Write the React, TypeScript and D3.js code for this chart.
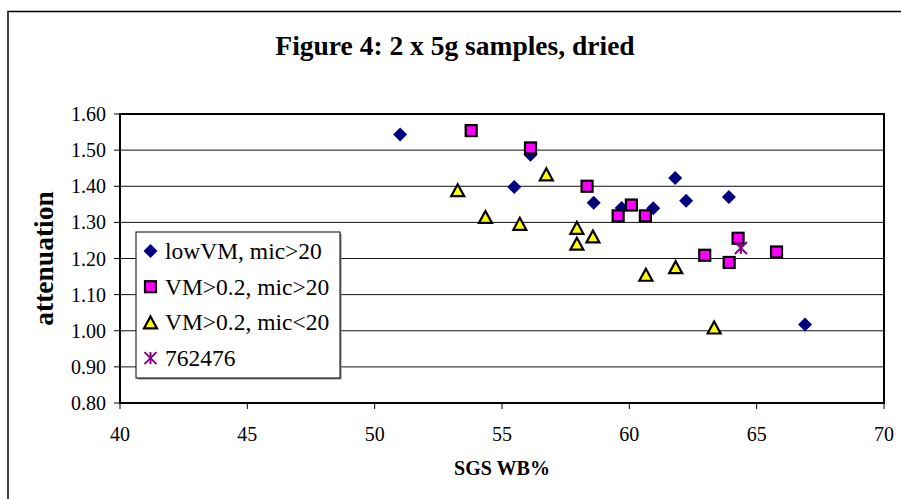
import React from "react";
import * as d3 from "d3";

const xTicks = [40, 45, 50, 55, 60, 65, 70];
const yTicks = [0.8, 0.9, 1.0, 1.1, 1.2, 1.3, 1.4, 1.5, 1.6];

const lowVM_x = [51.0, 55.48, 56.12, 58.6, 59.7, 60.94, 61.8, 62.23, 63.91, 66.9];
const lowVM_y = [1.543, 1.398, 1.487, 1.354, 1.34, 1.339, 1.423, 1.36, 1.37, 1.017];

const vmHi_x = [53.79, 56.12, 58.34, 59.56, 60.08, 60.63, 62.96, 63.92, 64.27, 65.78];
const vmHi_y = [1.554, 1.506, 1.4, 1.318, 1.348, 1.318, 1.209, 1.189, 1.256, 1.218];

const vmLo_x = [53.26, 54.35, 55.7, 56.74, 57.94, 57.94, 58.57, 60.65, 61.82, 63.33];
const vmLo_y = [1.389, 1.315, 1.296, 1.433, 1.285, 1.241, 1.261, 1.155, 1.176, 1.009];

const s762_x = [64.38];
const s762_y = [1.229];

const seriesNames = ["lowVM, mic>20", "VM>0.2, mic>20", "VM>0.2, mic<20", "762476"];

const W = 901;
const H = 499;
const L = 120, R = 884, T = 114, B = 403;
const FONT = '"Liberation Serif", "Times New Roman", Times, serif';

const x = d3.scaleLinear().domain([40, 70]).range([L, R]);
const y = d3.scaleLinear().domain([0.8, 1.6]).range([B, T]);

function Marker({ kind, cx, cy }: { kind: number; cx: number; cy: number }) {
  if (kind === 0) {
    const r = 7;
    return <path d={`M${cx},${cy - r}L${cx + r},${cy}L${cx},${cy + r}L${cx - r},${cy}Z`} fill="#000080" />;
  }
  if (kind === 1) {
    const s = 11;
    return <rect x={cx - s / 2} y={cy - s / 2} width={s} height={s} fill="#FF00FF" stroke="#000" strokeWidth={2.2} />;
  }
  if (kind === 2) {
    const w = 13, h = 12;
    return (
      <path
        d={`M${cx},${cy - h / 2}L${cx + w / 2},${cy + h / 2}L${cx - w / 2},${cy + h / 2}Z`}
        fill="#FFFF00"
        stroke="#000"
        strokeWidth={2.2}
        strokeLinejoin="miter"
      />
    );
  }
  const r = 6;
  return (
    <g stroke="#800080" strokeWidth={2}>
      <line x1={cx} y1={cy - r} x2={cx} y2={cy + r} />
      <line x1={cx - r} y1={cy - r} x2={cx + r} y2={cy + r} />
      <line x1={cx - r} y1={cy + r} x2={cx + r} y2={cy - r} />
    </g>
  );
}

export default function App() {
  const series = [
    { xs: lowVM_x, ys: lowVM_y },
    { xs: vmHi_x, ys: vmHi_y },
    { xs: vmLo_x, ys: vmLo_y },
    { xs: s762_x, ys: s762_y },
  ];
  const legX = 136, legY = 232, legW = 204, legH = 146;
  const ts = { fontFamily: FONT };
  return (
    <svg
      width={W}
      height={H}
      style={{ position: "absolute", left: 0, top: 0, background: "#fff", fontFamily: FONT }}
    >
      <rect x={0} y={0} width={W} height={H} fill="#fff" />
      <rect x={8} y={11.5} width={W + 20} height={H + 20} fill="#fff" stroke="#000" strokeWidth={1.5} />
      <text x={455} y={55} textAnchor="middle" fontSize={27.5} fontWeight="bold" style={ts}>
        Figure 4: 2 x 5g samples, dried
      </text>
      {yTicks.map((t) => (
        <line key={"g" + t} x1={L} x2={R} y1={y(t)} y2={y(t)} stroke="#111" strokeWidth={1} />
      ))}
      <rect x={L} y={T} width={R - L} height={B - T} fill="none" stroke="#000" strokeWidth={2} />
      {yTicks.map((t) => (
        <g key={"y" + t}>
          <line x1={L - 6} x2={L} y1={y(t)} y2={y(t)} stroke="#000" strokeWidth={1} />
          <text x={106} y={y(t) + 7} textAnchor="end" fontSize={20} style={ts}>
            {t.toFixed(2)}
          </text>
        </g>
      ))}
      {xTicks.map((t) => (
        <g key={"x" + t}>
          <line x1={x(t)} x2={x(t)} y1={B} y2={B + 6} stroke="#000" strokeWidth={1} />
          <text x={x(t)} y={441} textAnchor="middle" fontSize={20} style={ts}>
            {t}
          </text>
        </g>
      ))}
      <text x={(L + R) / 2} y={475} textAnchor="middle" fontSize={20} fontWeight="bold" style={ts}>
        SGS WB%
      </text>
      <text
        transform={`translate(53,${(T + B) / 2}) rotate(-90)`}
        textAnchor="middle"
        fontSize={27.5}
        fontWeight="bold"
        style={ts}
      >
        attenuation
      </text>
      {series.map((s, k) => (
        <g key={"s" + k}>
          {s.xs.map((xv, i) => (
            <Marker key={i} kind={k} cx={x(xv)} cy={y(s.ys[i])} />
          ))}
        </g>
      ))}
      <rect x={legX + 1.5} y={legY + 1.5} width={legW} height={legH} fill="#888" />
      <rect x={legX} y={legY} width={legW} height={legH} fill="#fff" stroke="#000" strokeWidth={1} />
      {seriesNames.map((name, i) => {
        const cy = 251 + i * 35.7;
        return (
          <g key={"l" + i}>
            <Marker kind={i} cx={150.5} cy={cy} />
            <text x={165} y={cy + 8} fontSize={23.5} style={ts}>
              {name}
            </text>
          </g>
        );
      })}
    </svg>
  );
}
